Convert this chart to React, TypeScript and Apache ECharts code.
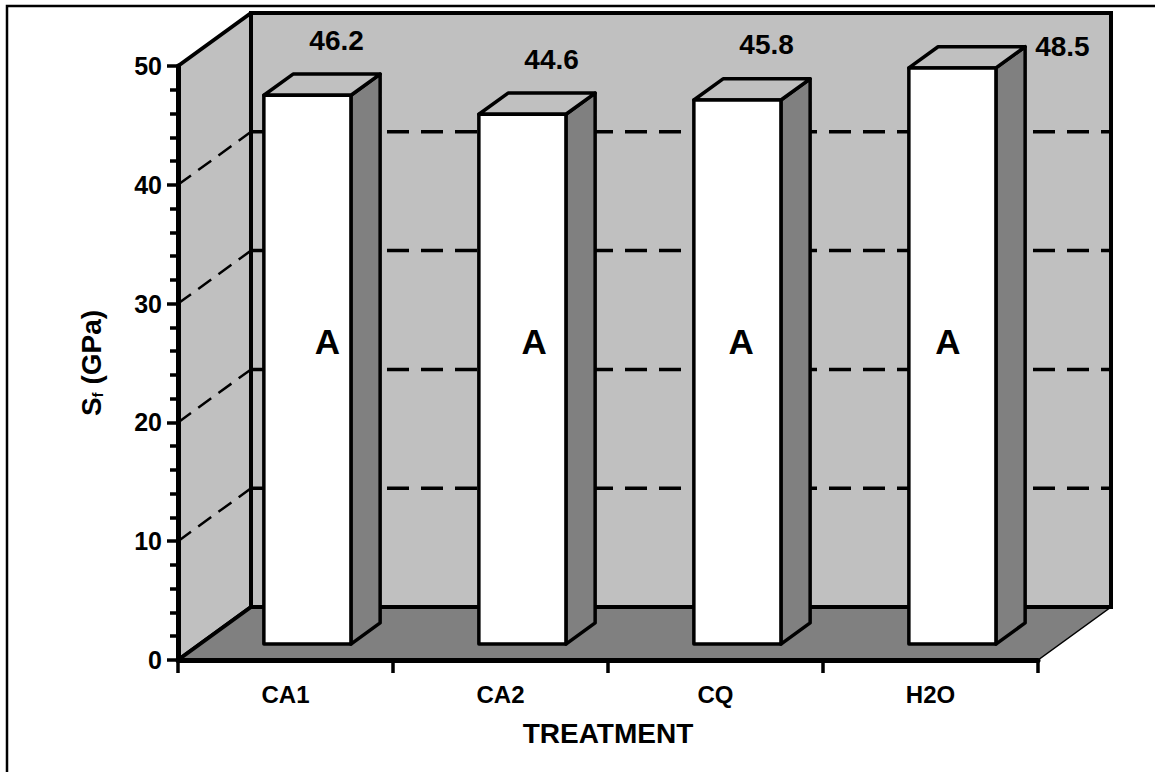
import React, { useEffect, useRef } from "react";
import * as echarts from "echarts";

// ---- data ----
const categories: string[] = ["CA1", "CA2", "CQ", "H2O"];
const values: number[] = [46.2, 44.6, 45.8, 48.5];
const letters: string[] = ["A", "A", "A", "A"];
const yTicks: number[] = [0, 10, 20, 30, 40, 50];
const letterLevel = 25;

// ---- styling / projection ----
const Y_MIN = 0;
const Y_MAX = 50;
const Y_STEP = 10;
const DEPTH: [number, number] = [73, -53];
const BAR_FRONT = 0.3;
const BAR_BACK = 0.7;
const BAR_WIDTH = 0.405;
const FONT = "'Liberation Sans', Arial, Helvetica, sans-serif";

export default function App() {
  const ref = useRef<HTMLDivElement>(null);

  useEffect(() => {
    document.body.style.margin = "0";
    const chart = echarts.init(ref.current!, null, { renderer: "svg" });
    const gridVals = yTicks.filter((v) => v > Y_MIN && v < Y_MAX);

    const wallsRender = (params: any, api: any) => {
      const cs = params.coordSys;
      const x0 = cs.x;
      const x1 = cs.x + cs.width;
      const yt = cs.y;
      const yb = cs.y + cs.height;
      const [dx, dy] = DEPTH;
      const children: any[] = [];
      children.push({
        type: "polygon",
        shape: { points: [[x0, yb], [x0, yt], [x0 + dx, yt + dy], [x0 + dx, yb + dy]] },
        style: { fill: "#c0c0c0", stroke: "#000", lineWidth: 4, lineJoin: "round" },
      });
      children.push({
        type: "rect",
        shape: { x: x0 + dx, y: yt + dy, width: x1 - x0, height: yb - yt },
        style: { fill: "#c0c0c0", stroke: "#000", lineWidth: 4 },
      });
      children.push({
        type: "polygon",
        shape: { points: [[x0, yb], [x0 + dx, yb + dy], [x1 + dx, yb + dy], [x1, yb]] },
        style: { fill: "#808080", stroke: "#000", lineWidth: 1.5 },
      });
      children.push({
        type: "line",
        shape: { x1: x0, y1: yb, x2: x0 + dx, y2: yb + dy },
        style: { stroke: "#000", lineWidth: 4, lineCap: "round" },
      });
      children.push({
        type: "line",
        shape: { x1: x0 + dx, y1: yb + dy, x2: x1 + dx, y2: yb + dy },
        style: { stroke: "#000", lineWidth: 4, lineCap: "round" },
      });
      gridVals.forEach((v) => {
        const y = api.coord([0, v])[1];
        children.push({
          type: "line",
          shape: { x1: x0, y1: y, x2: x0 + dx, y2: y + dy },
          style: { stroke: "#000", lineWidth: 2.5, lineDash: [16, 9] },
        });
        children.push({
          type: "line",
          shape: { x1: x0 + dx, y1: y + dy, x2: x1 + dx, y2: y + dy },
          style: { stroke: "#000", lineWidth: 3.5, lineDash: [22, 12] },
        });
      });
      return { type: "group", children };
    };

    const barsRender = (params: any, api: any) => {
      const cs = params.coordSys;
      const i = api.value(0);
      const v = api.value(1);
      const top = api.coord([i, v]);
      const base = api.coord([i, 0]);
      const band = api.size([1, 0])[0];
      const w = band * BAR_WIDTH;
      const [dx, dy] = DEPTH;
      const fx = top[0] - w / 2 + dx * BAR_FRONT;
      const fy = top[1] + dy * BAR_FRONT;
      const fb = base[1] + dy * BAR_FRONT;
      const ddx = dx * (BAR_BACK - BAR_FRONT);
      const ddy = dy * (BAR_BACK - BAR_FRONT);
      const xr = fx + w;
      const line = { stroke: "#000", lineWidth: 3.5, lineJoin: "round" };
      const children: any[] = [
        {
          type: "polygon",
          shape: { points: [[xr, fy], [xr + ddx, fy + ddy], [xr + ddx, fb + ddy], [xr, fb]] },
          style: { fill: "#808080", ...line },
        },
        {
          type: "polygon",
          shape: { points: [[fx, fy], [fx + ddx, fy + ddy], [xr + ddx, fy + ddy], [xr, fy]] },
          style: { fill: "#c0c0c0", ...line },
        },
        {
          type: "rect",
          shape: { x: fx, y: fy, width: w, height: fb - fy },
          style: { fill: "#ffffff", ...line },
        },
      ];
      // value label
      const backCx = top[0] + dx * BAR_BACK;
      const backTop = top[1] + dy * BAR_BACK;
      let lx = backCx;
      let ly = backTop - 34;
      let align = "center";
      if (ly - 14 < cs.y + dy) {
        lx = xr + ddx + 10;
        ly = backTop;
        align = "left";
      }
      children.push({
        type: "text",
        style: {
          x: lx,
          y: ly,
          text: String(v.toFixed(1)),
          align,
          verticalAlign: "middle",
          fill: "#000",
          font: `bold 28px ${FONT}`,
        },
      });
      // letter
      const ax = cs.x + (top[0] - cs.x) * 0.962 + 46;
      const ay = api.coord([i, letterLevel])[1] + dy * 0.4;
      children.push({
        type: "text",
        style: {
          x: ax,
          y: ay,
          text: letters[i],
          align: "center",
          verticalAlign: "middle",
          fill: "#000",
          font: `bold 35px ${FONT}`,
        },
      });
      return { type: "group", children };
    };

    chart.setOption({
      animation: false,
      backgroundColor: "#ffffff",
      grid: { left: 178, right: 117, top: 66, bottom: 112 },
      graphic: [
        {
          type: "rect",
          shape: { x: 7, y: 6, width: 1150, height: 770 },
          style: { fill: "none", stroke: "#000", lineWidth: 2.5 },
          z: -10,
          silent: true,
        },
      ],
      xAxis: {
        type: "category",
        data: categories,
        boundaryGap: true,
        z: 10,
        axisLine: { show: true, lineStyle: { color: "#000", width: 5 } },
        axisTick: { show: true, length: 13, alignWithLabel: false, lineStyle: { color: "#000", width: 3.5 } },
        axisLabel: { color: "#000", fontSize: 24, fontWeight: "bold", fontFamily: FONT, margin: 22 },
        splitLine: { show: false },
        name: "TREATMENT",
        nameLocation: "middle",
        nameGap: 59,
        nameTextStyle: { color: "#000", fontSize: 28, fontWeight: "bold", fontFamily: FONT },
      },
      yAxis: {
        type: "value",
        min: Y_MIN,
        max: Y_MAX,
        interval: Y_STEP,
        z: 10,
        axisLine: { show: true, lineStyle: { color: "#000", width: 5 } },
        axisTick: { show: true, length: 11, lineStyle: { color: "#000", width: 3.5 } },
        minorTick: { show: true, splitNumber: 5, length: 8, lineStyle: { color: "#000", width: 3.5 } },
        splitLine: { show: false },
        minorSplitLine: { show: false },
        axisLabel: { color: "#000", fontSize: 25, fontWeight: "bold", fontFamily: FONT, margin: 16 },
        name: "{m|S}{s|f}{m| (GPa)}",
        nameLocation: "middle",
        nameRotate: 90,
        nameGap: 73,
        nameTextStyle: {
          color: "#000",
          rich: {
            m: { fontSize: 28, fontWeight: "bold", fontFamily: FONT, color: "#000" },
            s: { fontSize: 15, fontWeight: "bold", fontFamily: FONT, color: "#000", verticalAlign: "bottom" },
          },
        },
      },
      series: [
        {
          type: "custom",
          name: "walls",
          clip: false,
          silent: true,
          renderItem: wallsRender,
          data: [[0, 0]],
        },
        {
          type: "custom",
          name: "bars",
          clip: false,
          silent: true,
          renderItem: barsRender,
          data: values.map((v, i) => [i, v]),
        },
      ],
    });

    return () => chart.dispose();
  }, []);

  return <div ref={ref} style={{ width: 1155, height: 772 }} />;
}
